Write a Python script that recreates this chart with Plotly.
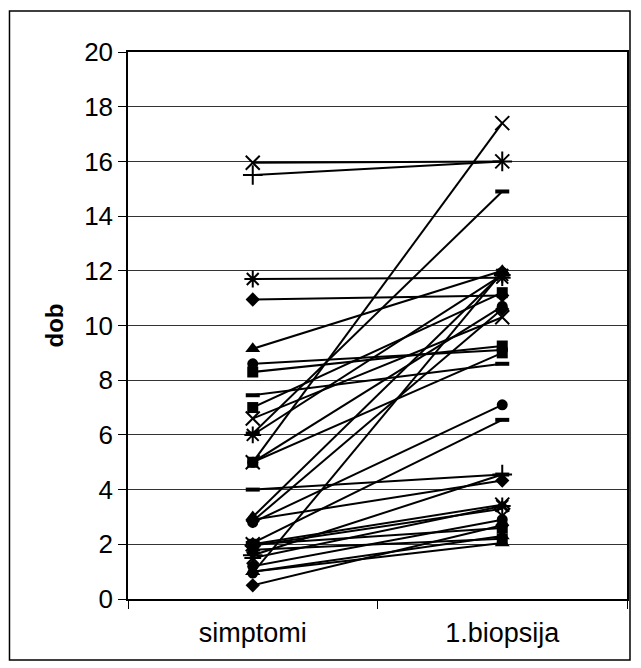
import plotly.graph_objects as go

categories = ["simptomi", "1.biopsija"]

# each series: value at "simptomi", value at "1.biopsija", marker symbol
simptomi = [15.95, 15.5, 11.7, 10.95, 9.15, 8.6, 8.3, 7.45, 7.0, 6.6,
            6.0, 6.05, 5.0, 5.0, 5.0, 4.0, 3.0, 2.85, 2.8, 2.05,
            2.0, 1.95, 2.0, 1.6, 1.5, 1.2, 1.0, 0.95, 0.5, 1.0,
            1.8, 2.9]
biopsija = [16.0, 16.0, 11.75, 11.1, 12.0, 9.1, 9.25, 8.6, 11.2, 10.3,
            11.85, 14.9, 17.4, 10.7, 9.0, 4.55, 11.9, 10.6, 7.1, 6.55,
            3.45, 3.3, 2.6, 4.55, 3.4, 2.9, 2.3, 11.95, 2.7, 2.05,
            2.2, 4.33]
symbols = ["x-thin", "cross-thin", "asterisk", "diamond", "triangle-up", "circle", "square", "line-ew",
           "square", "x-thin", "asterisk", "line-ew", "x-thin", "circle", "square", "line-ew",
           "triangle-up", "diamond", "circle", "line-ew", "x-thin", "diamond-open", "square",
           "cross-thin", "asterisk", "circle", "triangle-up", "circle", "diamond", "triangle-up",
           "square", "diamond"]

thin = {"x-thin", "cross-thin", "asterisk", "line-ew", "diamond-open"}

fig = go.Figure()
for a, b, s in zip(simptomi, biopsija, symbols):
    is_thin = s in thin
    size = 11
    lw = 2
    if s == "line-ew":
        lw = 4
        size = 10
    if s in ("x-thin", "cross-thin", "asterisk"):
        size = 14
    if s == "triangle-up":
        size = 13
    fig.add_trace(go.Scatter(
        x=categories, y=[a, b], mode="lines+markers",
        line=dict(color="black", width=2),
        marker=dict(symbol=s, size=size, color="black",
                    line=dict(color="black", width=lw if is_thin else 0)),
        showlegend=False, hoverinfo="skip"))

yfont = dict(family="Liberation Sans, Arial, sans-serif", size=26, color="black")
xfont = dict(family="Liberation Sans, Arial, sans-serif", size=27, color="black")
titlefont = dict(family="Liberation Sans, Arial, sans-serif", size=24, color="black")

fig.update_layout(
    width=633, height=660,
    margin=dict(l=120, r=12, t=44, b=69),
    paper_bgcolor="white", plot_bgcolor="white",
    font=yfont,
    xaxis=dict(type="category", range=[-0.5, 1.5], tickson="boundaries",
               ticks="outside", ticklen=8, tickcolor="black", tickwidth=1,
               ticklabelstandoff=9,
               showgrid=False, showline=True, linecolor="black", linewidth=2,
               mirror=True, tickfont=xfont, zeroline=False),
    yaxis=dict(range=[0, 20], dtick=2, ticks="outside", ticklen=8,
               tickcolor="black", showgrid=True, gridcolor="#333333", gridwidth=1,
               showline=True, linecolor="black", linewidth=1.5, mirror=True,
               zeroline=False, tickfont=yfont,
               title=dict(text="<b>dob</b>", font=titlefont, standoff=14)),
    shapes=[dict(type="rect", xref="paper", yref="paper",
                 x0=-0.2375, x1=1.006, y0=-0.1115, y1=1.075,
                 line=dict(color="black", width=1.5), layer="below")],
)

fig.write_html("out.html")
